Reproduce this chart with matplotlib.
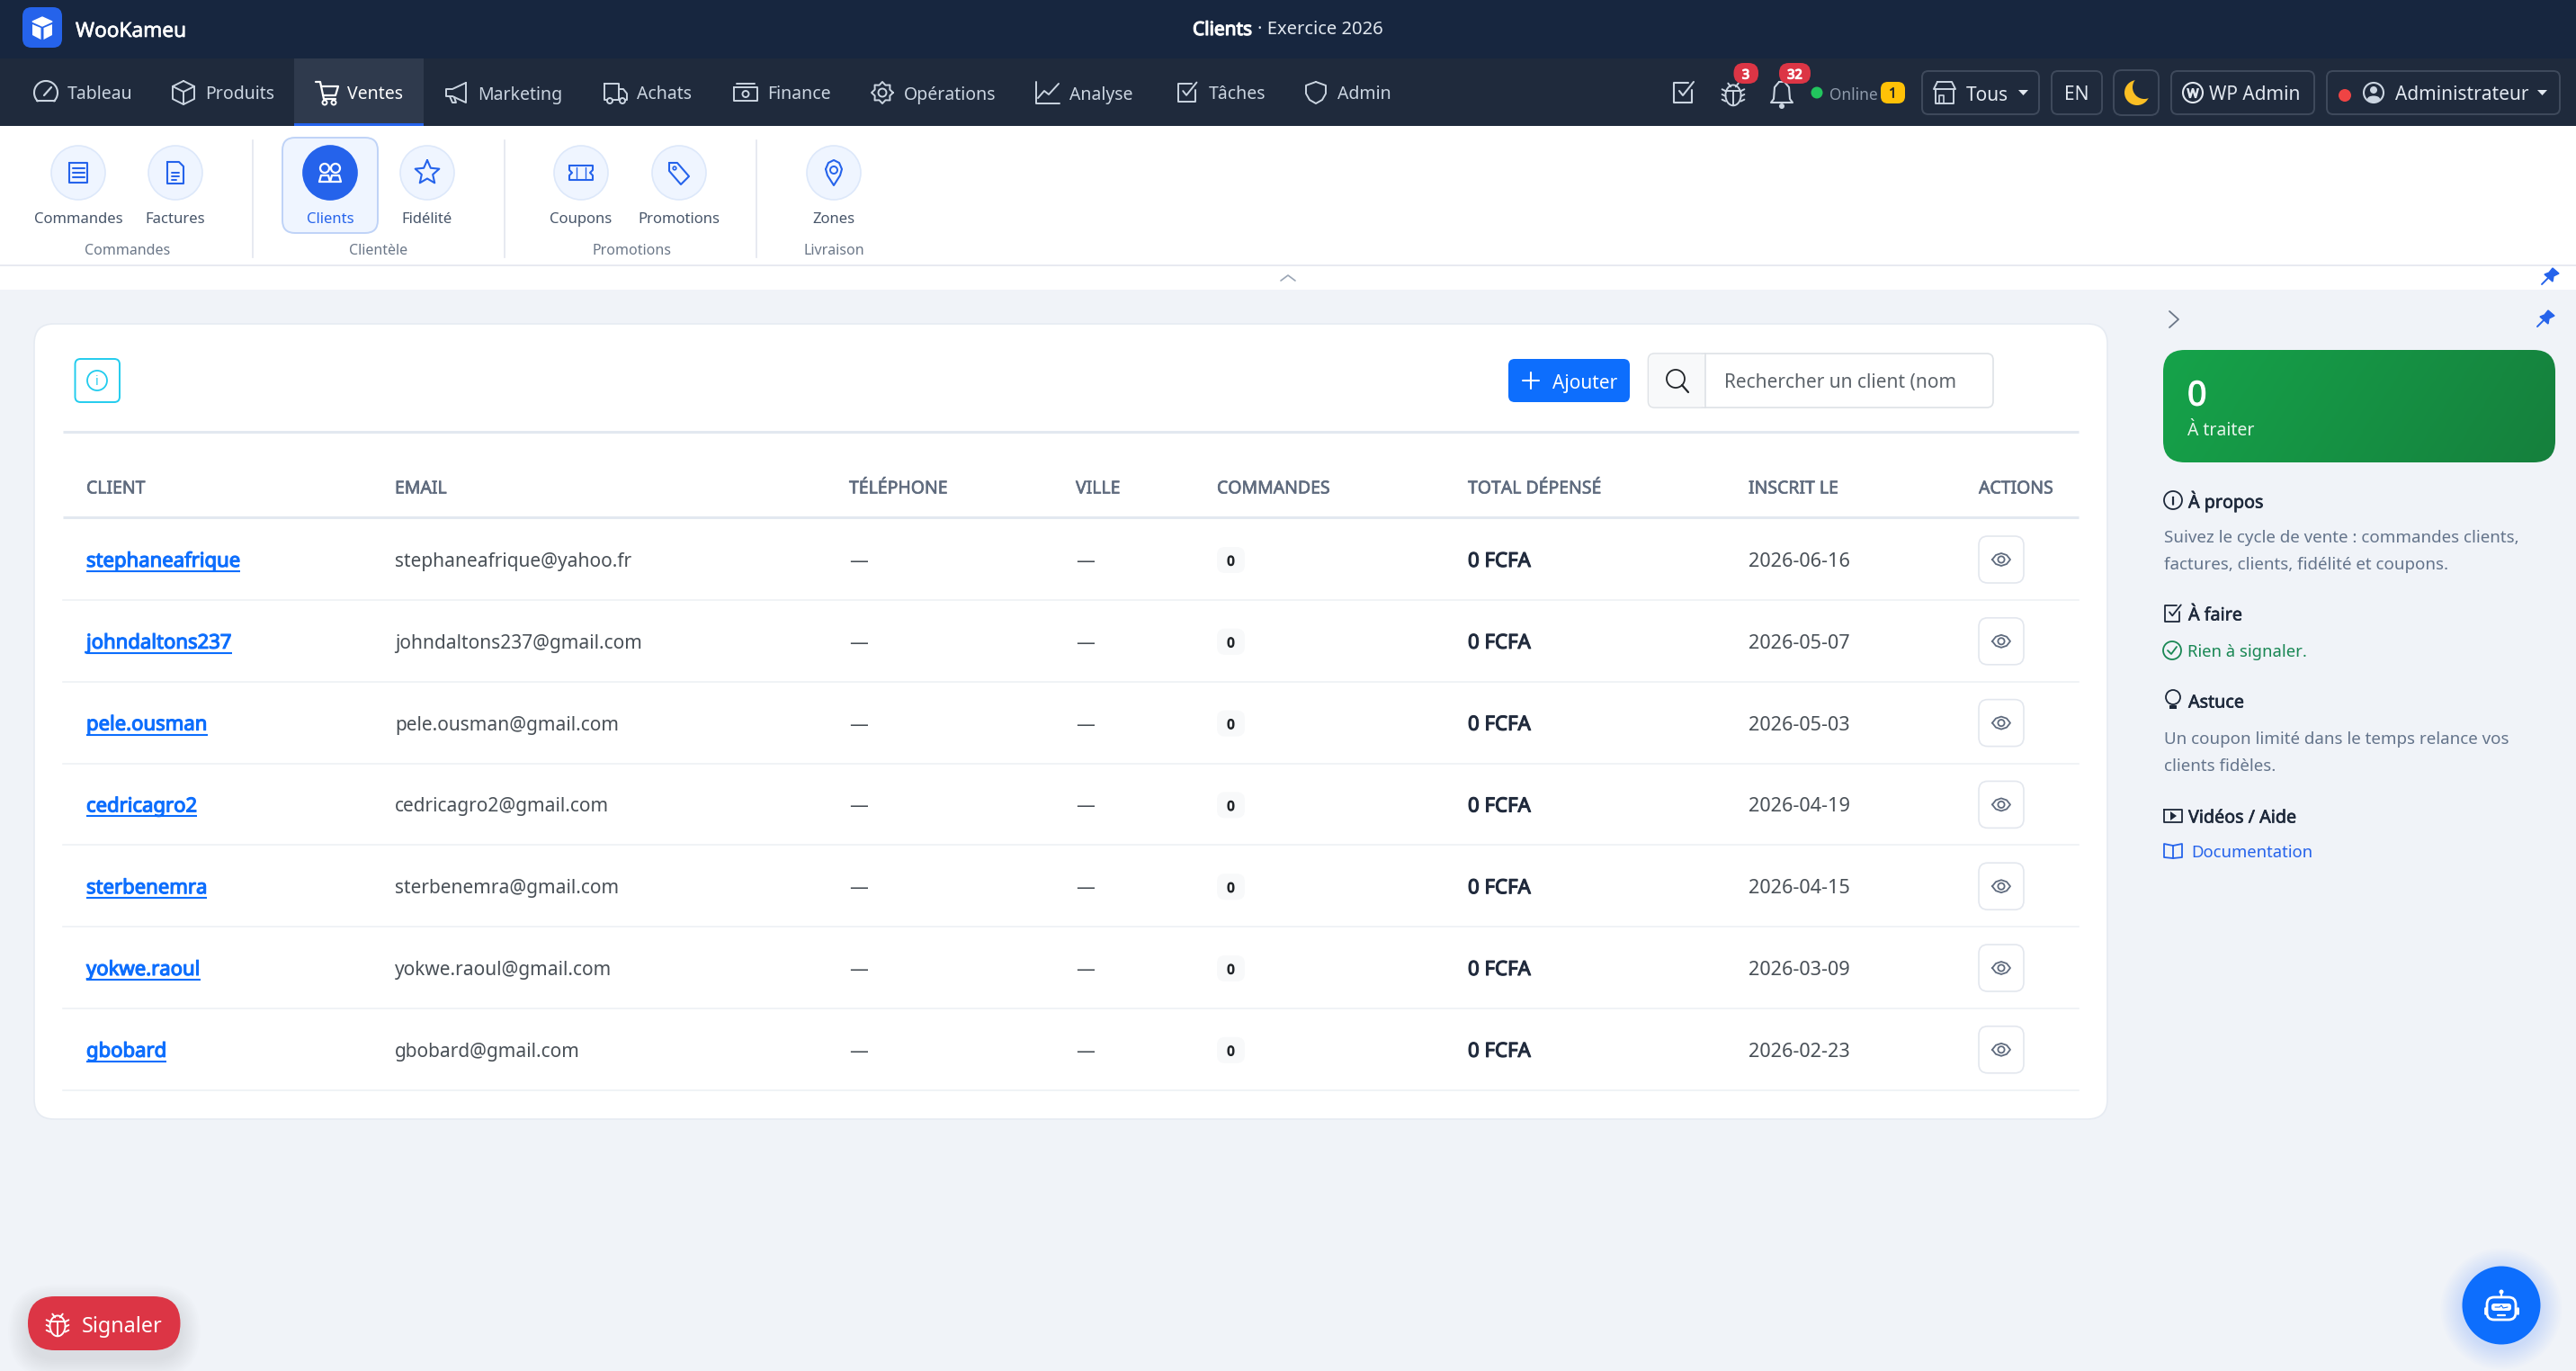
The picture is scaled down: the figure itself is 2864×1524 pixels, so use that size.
import numpy as np
import matplotlib
matplotlib.use("Agg")
import matplotlib.pyplot as plt
import matplotlib.patheffects as pe
from matplotlib.patches import FancyBboxPatch, Circle, Ellipse, Polygon, Rectangle, Arc
from matplotlib.colors import LinearSegmentedColormap

plt.rcParams["font.family"] = ["Noto Sans", "DejaVu Sans"]

# data
nav_labels = ["Tableau", "Produits", "Ventes", "Marketing", "Achats", "Finance", "Opérations", "Analyse", "Tâches", "Admin"]
sub_labels = ["Commandes", "Factures", "Clients", "Fidélité", "Coupons", "Promotions", "Zones"]
group_labels = ["Commandes", "Clientèle", "Promotions", "Livraison"]
table_headers = ["CLIENT", "EMAIL", "TÉLÉPHONE", "VILLE", "COMMANDES", "TOTAL DÉPENSÉ", "INSCRIT LE", "ACTIONS"]
clients = ["stephaneafrique", "johndaltons237", "pele.ousman", "cedricagro2", "sterbenemra", "yokwe.raoul", "gbobard"]
emails = ["stephaneafrique@yahoo.fr", "johndaltons237@gmail.com", "pele.ousman@gmail.com", "cedricagro2@gmail.com",
          "sterbenemra@gmail.com", "yokwe.raoul@gmail.com", "gbobard@gmail.com"]
orders = [0, 0, 0, 0, 0, 0, 0]
spent = [0, 0, 0, 0, 0, 0, 0]
dates = ["2026-06-16", "2026-05-07", "2026-05-03", "2026-04-19", "2026-04-15", "2026-03-09", "2026-02-23"]

# layout in screen pixels
nav_icon_x = [51, 204, 363, 507, 684, 829, 981, 1165, 1320, 1463]
nav_text_x = [75, 228, 386, 531, 708, 853, 1005, 1189, 1344, 1487]
sub_x = [87, 195, 367, 475, 646, 755, 927]
group_x = [142, 421, 702, 927]
head_x = [96, 439, 944, 1196, 1353, 1632, 1944, 2200]
row_y = [622 + 90.8 * i for i in range(7)]

NAVY = "#17263F"
NAV = "#1F2A3C"
BG = "#F0F3F8"
BLUE = "#0D6EFD"
ROYAL = "#2563EB"
GREY = "#495057"
NAVTXT = "#CBD5E1"

fig = plt.figure(figsize=(28.64, 15.24), dpi=100, facecolor=BG)
ax = fig.add_axes([0, 0, 1, 1])
ax.set_xlim(0, 2864)
ax.set_ylim(1524, 0)
ax.axis("off")


def box(x0, y0, x1, y1, fc, ec="none", r=8, lw=1.4, z=2, alpha=None):
    p = FancyBboxPatch((x0, y0), x1 - x0, y1 - y0, boxstyle=f"round,pad=0,rounding_size={r}",
                       fc=fc, ec=ec, lw=lw, zorder=z, alpha=alpha)
    ax.add_patch(p)
    return p


# Noto Sans has no heavy cut here, so the weights get a thin stroke
def txt(x, y, s, size=14, color=GREY, weight="normal", ha="left", z=6):
    t = ax.text(x, y, s, fontsize=size, color=color, ha=ha, va="center_baseline", zorder=z)
    stroke = {"normal": 0, "semibold": 0.45, "bold": 0.85}[weight]
    if stroke:
        t.set_path_effects([pe.withStroke(linewidth=stroke, foreground=color)])
    return t


def pl(cx, cy, pts, color, lw=1.4, closed=False, z=5):
    xs = [cx + p[0] for p in pts]
    ys = [cy + p[1] for p in pts]
    if closed:
        xs.append(xs[0])
        ys.append(ys[0])
    ax.plot(xs, ys, color=color, lw=lw, zorder=z, solid_capstyle="round", solid_joinstyle="round")


def ring(cx, cy, r, color, lw=1.4, fc="none", z=5):
    ax.add_patch(Circle((cx, cy), r, fc=fc, ec=color, lw=lw, zorder=z))


def shadow(x0, y0, x1, y1, r, color, spread=24, dy=10, strength=0.02):
    for k in range(spread, 0, -2):
        box(x0 - k, y0 - k + dy, x1 + k, y1 + k + dy, color, r=r + k, z=1.5, alpha=strength)


def icon_check(cx, cy, c, s=1.0, lw=1.4):
    pl(cx, cy, [(9*s, -3*s), (9*s, 11*s), (-11*s, 11*s), (-11*s, -11*s), (5*s, -11*s)], c, lw)
    pl(cx, cy, [(-5*s, -2*s), (-1*s, 3*s), (11*s, -12*s)], c, lw)


def icon_bug(cx, cy, c, s=1.0, lw=1.4):
    ax.add_patch(Ellipse((cx, cy + 2*s), 18*s, 24*s, fc="none", ec=c, lw=lw, zorder=5))
    pl(cx, cy, [(-9*s, -3*s), (9*s, -3*s)], c, lw)
    pl(cx, cy, [(0, -3*s), (0, 14*s)], c, lw)
    for dy in (-3, 3, 9):
        pl(cx, cy, [(-9*s, dy*s), (-13*s, (dy-2)*s)], c, lw)
        pl(cx, cy, [(9*s, dy*s), (13*s, (dy-2)*s)], c, lw)
    pl(cx, cy, [(-6*s, -12*s), (-3*s, -8*s)], c, lw)
    pl(cx, cy, [(6*s, -12*s), (3*s, -8*s)], c, lw)


def icon_eye(cx, cy, c):
    pl(cx, cy, [(-10, 0), (-6, -5), (0, -7), (6, -5), (10, 0), (6, 5), (0, 7), (-6, 5)], c, 1.3, closed=True)
    ring(cx, cy, 3.6, c, 1.3)


def icon_pin(cx, cy, c):
    ax.add_patch(Polygon([(cx + 3, cy - 10), (cx + 10, cy - 4), (cx + 4, cy - 1), (cx + 3, cy + 5), (cx - 6, cy - 3), (cx - 1, cy - 5)],
                         fc=c, ec=c, lw=1, zorder=5))
    pl(cx, cy, [(-2, 1), (-9, 8)], c, 1.4)


def nav_icon(i, x, y, c):
    if i == 0:  # tableau
        ax.add_patch(Arc((x, y), 26, 26, theta1=130, theta2=50, ec=c, lw=1.5, zorder=5))
        pl(x, y, [(-10, 9), (10, 9)], c, 1.5)
        pl(x, y, [(-2, 3), (6, -6)], c, 1.6)
    elif i == 1:  # produits
        pl(x, y, [(0, -13), (12, -7), (12, 7), (0, 13), (-12, 7), (-12, -7)], c, closed=True)
        pl(x, y, [(-12, -7), (0, -1), (12, -7)], c)
        pl(x, y, [(0, -1), (0, 13)], c)
    elif i == 2:  # ventes
        pl(x, y, [(-12, -12), (-7, -12), (-3, 7), (10, 7)], c, 1.6)
        pl(x, y, [(-6, -7), (13, -7), (10, 3), (-4, 3)], c, 1.6)
        ring(x - 2, y + 11, 2.5, c)
        ring(x + 8, y + 11, 2.5, c)
    elif i == 3:  # marketing
        pl(x, y, [(11, -11), (11, 11), (-4, 4), (-11, 4), (-11, -4), (-4, -4)], c, closed=True)
        pl(x, y, [(-7, 4), (-4, 11), (0, 11), (-2, 5)], c)
    elif i == 4:  # achats
        pl(x, y, [(-12, -10), (4, -10), (4, 8), (-12, 8)], c, closed=True)
        pl(x, y, [(4, -4), (9, -4), (13, 1), (13, 8), (4, 8)], c)
        ring(x - 6, y + 9, 3, c, fc=NAV)
        ring(x + 8, y + 9, 3, c, fc=NAV)
    elif i == 5:  # finance
        pl(x, y, [(-13, -6), (13, -6), (13, 9), (-13, 9)], c, closed=True)
        pl(x, y, [(-10, -10), (10, -10)], c)
        ring(x, y + 1.5, 3.5, c)
    elif i == 6:  # operations
        ring(x, y, 4.5, c)
        ang = np.linspace(0, 2 * np.pi, 17)
        rad = [12 if k % 2 == 0 else 9 for k in range(17)]
        pl(x, y, [(r * np.cos(a), r * np.sin(a)) for a, r in zip(ang, rad)], c)
    elif i == 7:  # analyse
        pl(x, y, [(-13, -12), (-13, 12), (13, 12)], c)
        pl(x, y, [(-11, 6), (-4, -2), (1, 2), (12, -10)], c)
    elif i == 8:  # taches
        icon_check(x, y, c, 0.95)
    else:  # admin
        pl(x, y, [(0, -12), (11, -8), (11, 1), (7, 8), (0, 12), (-7, 8), (-11, 1), (-11, -8)], c, closed=True)


def sub_icon(i, x, y, c):
    if i == 0:
        pl(x, y, [(-10, -11), (10, -11), (10, 11), (-10, 11)], c, 1.5, closed=True)
        for d in (-5, 0, 5):
            pl(x, y, [(-6, d), (7, d)], c, 1.5)
    elif i == 1:
        pl(x, y, [(-9, -12), (4, -12), (9, -7), (9, 12), (-9, 12)], c, 1.5, closed=True)
        pl(x, y, [(-4, 0), (4, 0)], c, 1.4)
        pl(x, y, [(-4, 4), (4, 4)], c, 1.4)
        pl(x, y, [(-4, 8), (1, 8)], c, 1.4)
    elif i == 2:
        ring(x - 6, y - 5, 5, c, 1.6)
        ring(x + 6, y - 5, 5, c, 1.6)
        pl(x, y, [(-12, 10), (-10, 3), (-2, 3), (0, 10), (2, 3), (10, 3), (12, 10), (-12, 10)], c, 1.6)
    elif i == 3:
        ang = np.radians(np.arange(-90, 270, 36))
        rad = [14 if k % 2 == 0 else 6.5 for k in range(10)]
        pl(x, y, [(r * np.cos(a), r * np.sin(a)) for a, r in zip(ang, rad)], c, 1.5, closed=True)
    elif i == 4:
        pl(x, y, [(-13, -8), (13, -8), (13, -3), (10, 0), (13, 3), (13, 8), (-13, 8), (-13, 3), (-10, 0), (-13, -3)], c, 1.5, closed=True)
        pl(x, y, [(-5, -6), (-5, 6)], c, 1)
        pl(x, y, [(5, -6), (5, 6)], c, 1)
    elif i == 5:
        pl(x, y, [(-11, -11), (-2, -11), (11, 4), (2, 13), (-11, -2)], c, 1.5, closed=True)
        ring(x - 5, y - 5, 1.8, c, 1.2)
    else:
        pl(x, y, [(-9, -4), (-6, -11), (0, -14), (6, -11), (9, -4), (7, 3), (0, 14), (-7, 3)], c, 1.5, closed=True)
        ring(x, y - 3, 4, c, 1.4)


# top bars
ax.add_patch(Rectangle((0, 0), 2864, 65, fc=NAVY, ec="none", zorder=1))
ax.add_patch(Rectangle((0, 65), 2864, 75, fc=NAV, ec="none", zorder=1))
ax.add_patch(Rectangle((327, 65), 144, 75, fc="#2F3A4D", ec="none", zorder=1.2))
ax.add_patch(Rectangle((327, 137), 144, 3, fc=ROYAL, ec="none", zorder=1.3))

# logo and title
box(25, 8, 69, 53, ROYAL, r=10)
ax.add_patch(Polygon([(36, 24), (47, 19), (58, 24), (47, 29)], fc="#FFFFFF", ec="white", lw=1, zorder=5))
ax.add_patch(Polygon([(36, 27), (45.5, 31), (45.5, 44), (36, 39)], fc="#FFFFFF", ec="none", zorder=5))
ax.add_patch(Polygon([(48.5, 31), (58, 27), (58, 39), (48.5, 44)], fc="#FFFFFF", ec="none", zorder=5))
txt(84, 33, "WooKameu", 16.3, "white", "semibold")
txt(1326, 31, "Clients", 15, "white", "bold")
txt(1398, 31, "· Exercice 2026", 14.5, "#E2E8F0")

# nav
for i, label in enumerate(nav_labels):
    col = "white" if i == 2 else NAVTXT
    nav_icon(i, nav_icon_x[i], 103, col)
    txt(nav_text_x[i], 103, label, 14, col)

# right of nav
icon_check(1872, 103, "#CBD5E1", 1.0, 1.5)
icon_bug(1927, 104, "#CBD5E1", 0.95)
bell = [(-3, -13), (3, -13), (8, -7), (9, 6), (12, 10), (-12, 10), (-9, 6), (-8, -7)]
pl(1981, 104, bell, "#CBD5E1", 1.5, closed=True)
ax.add_patch(Circle((1981, 118), 3, fc="#CBD5E1", ec="none", zorder=5))
box(1927.5, 70, 1955, 93, "#DC3545", r=11, z=7)
txt(1941, 82, "3", 10.5, "white", "bold", ha="center", z=8)
box(1978, 70, 2013, 93, "#DC3545", r=11, z=7)
txt(1995.5, 82, "32", 10.5, "white", "bold", ha="center", z=8)
ax.add_patch(Circle((2020, 103), 6.5, fc="#22C55E", ec="none", zorder=5))
txt(2034, 104, "Online", 12.5, "#8E9AAB")
box(2091, 91, 2118, 115, "#FFC107", r=8)
txt(2104.5, 103, "1", 11, "#212529", "semibold", ha="center")

BTN = "#3F4A5C"
box(2137, 79, 2267, 127, "none", BTN, r=7)
box(2281, 79, 2337, 127, "none", BTN, r=7)
box(2350, 78, 2400, 128, "none", BTN, r=9)
box(2414, 79, 2573, 127, "none", BTN, r=7)
box(2587, 79, 2846, 127, "none", BTN, r=7)
# shop
pl(2162, 103, [(-10, -4), (-10, 12), (10, 12), (10, -4)], NAVTXT)
pl(2162, 103, [(-8, -12), (8, -12), (12, -4), (-12, -4)], NAVTXT, closed=True)
pl(2162, 103, [(-6, 12), (-6, 3), (-1, 3), (-1, 12)], NAVTXT, 1.2)
txt(2186, 104, "Tous", 15, "#E2E8F0")
ax.add_patch(Polygon([(2244, 100), (2255, 100), (2249.5, 106)], fc="#E2E8F0", ec="none", zorder=5))
txt(2309, 103, "EN", 15, "#E2E8F0", ha="center")
ax.add_patch(Circle((2376, 103), 14, fc="#FBBF24", ec="none", zorder=5))
ax.add_patch(Circle((2384, 97), 13, fc=NAV, ec="none", zorder=5.1))
ring(2438, 103, 11, "#E2E8F0", 1.5, fc="none")
txt(2438, 103, "W", 10, "#E2E8F0", "bold", ha="center")
txt(2456, 103, "WP Admin", 15, "#E2E8F0")
ax.add_patch(Circle((2607, 106), 7, fc="#EF4444", ec="none", zorder=5))
ring(2639, 103, 11, "#CBD5E1", 1.5)
ax.add_patch(Circle((2639, 100), 4, fc="#CBD5E1", ec="none", zorder=5))
ax.add_patch(Ellipse((2639, 110), 14, 7, fc="#CBD5E1", ec="none", zorder=5))
txt(2663, 103, "Administrateur", 15, "#E2E8F0")
ax.add_patch(Polygon([(2821, 100), (2832, 100), (2826.5, 106)], fc="#E2E8F0", ec="none", zorder=5))

# sub menu
ax.add_patch(Rectangle((0, 140), 2864, 182, fc="white", ec="none", zorder=1))
ax.plot([0, 2864], [295, 295], color="#E8EAF1", lw=1.4, zorder=2)
box(314, 153, 420, 259, "#EFF5FF", "#BFD3F7", r=14, z=2)
for i, label in enumerate(sub_labels):
    active = i == 2
    ax.add_patch(Circle((sub_x[i], 192), 30, fc=ROYAL if active else "#EFF5FF", ec=ROYAL if active else "#DDE8FA", lw=1.2, zorder=3))
    sub_icon(i, sub_x[i], 192, "white" if active else ROYAL)
    txt(sub_x[i], 242, label, 12, ROYAL if active else "#475569", ha="center")
for i, label in enumerate(group_labels):
    txt(group_x[i], 277, label, 11.5, "#6B7788", ha="center")
for x in (281, 561, 841):
    ax.plot([x, x], [156, 286], color="#E3E6EF", lw=1.2, zorder=2)
pl(1432, 309, [(-8, 3), (0, -3), (8, 3)], "#9AA5B5", 1.2)
icon_pin(2835, 308, ROYAL)

# main card
box(38, 360, 2343, 1244, "white", "#E6EBF2", r=22, lw=1.2, z=2)
box(83.5, 399, 133, 447, "white", "#22CCEE", r=6, lw=1.4, z=3)
ring(108, 423, 11, "#22CCEE", 1.3)
txt(108, 423, "i", 10, "#22CCEE", ha="center")

box(1677, 399, 1812, 447, BLUE, r=7, z=3)
pl(1702, 423, [(-9, 0), (9, 0)], "white", 1.5)
pl(1702, 423, [(0, -9), (0, 9)], "white", 1.5)
txt(1726, 424, "Ajouter", 15, "white")
box(1832.5, 393, 2216, 453, "white", "#DEE2E6", r=7, lw=1.2, z=3)
box(1833.2, 393.7, 1896, 452.3, "#F8F9FA", "none", r=6, z=3.1)
ax.plot([1896, 1896], [393, 453], color="#DEE2E6", lw=1.2, zorder=3.2)
ring(1863, 421, 10, "#212529", 1.3)
pl(1863, 421, [(7, 7), (14, 15)], "#212529", 1.6)
txt(1917, 423, "Rechercher un client (nom", 15, "#5C636A")

# table
ax.plot([70, 2311], [479.5, 479.5], color="#E2E8F0", lw=2.2, zorder=3, solid_capstyle="butt")
ax.plot([70, 2311], [575, 575], color="#E2E8F0", lw=2.2, zorder=3, solid_capstyle="butt")
for i, label in enumerate(table_headers):
    txt(head_x[i], 541, label, 14, "#5F6B7E", "semibold")

renderer = fig.canvas.get_renderer()
for i in range(7):
    y = row_y[i]
    t = txt(head_x[0], y, clients[i], 15.9, BLUE, "bold")
    bb = t.get_window_extent(renderer)
    ax.plot([bb.x0, bb.x1], [y + 13, y + 13], color=BLUE, lw=1.5, zorder=6, solid_capstyle="butt")
    txt(head_x[1], y, emails[i], 15, GREY)
    txt(head_x[2], y, "—", 15, GREY)
    txt(head_x[3], y, "—", 15, GREY)
    box(1353, y - 14, 1384, y + 15, "#F8F9FA", r=9, z=3)
    txt(1368.5, y + 1, str(orders[i]), 10.5, "#212529", "bold", ha="center")
    txt(head_x[5], y, f"{spent[i]} FCFA", 16, "#212B3D", "bold")
    txt(head_x[6], y, dates[i], 15.6, GREY)
    box(2200, y - 26, 2250, y + 26, "white", "#E3E7EE", r=10, lw=1.2, z=3)
    icon_eye(2225, y, "#5F6B7E")
    ax.plot([70, 2311], [y + 45, y + 45], color="#EEF1F5", lw=1.2, zorder=3)

# right panel
pl(2417, 355, [(-5, -9), (5, 0), (-5, 9)], "#6B7788", 1.3)
icon_pin(2830, 355, ROYAL)
green = box(2405, 389, 2841, 514, "none", r=24, z=3)
gx, gy = np.meshgrid(np.linspace(0, 1, 200), np.linspace(0, 1, 40))
grad = (gx * 0.85 + gy * 0.15)
cm = LinearSegmentedColormap.from_list("g", ["#16A34A", "#15803D"])
im = ax.imshow(grad, extent=(2405, 2841, 514, 389), cmap=cm, aspect="auto", zorder=3)
im.set_clip_path(green)
ax.set_xlim(0, 2864)
ax.set_ylim(1524, 0)
txt(2432, 436, "0", 27, "white", "bold")
txt(2432, 477, "À traiter", 14, "#E6F4EA")

DARK = "#1E293B"
SLATE = "#64748B"
ring(2416, 556, 10, DARK, 1.3)
txt(2416, 556, "i", 8.5, DARK, "bold", ha="center")
txt(2433, 555, "À propos", 14.2, DARK, "semibold")
txt(2406, 596, "Suivez le cycle de vente : commandes clients,", 13.5, SLATE)
txt(2406, 626, "factures, clients, fidélité et coupons.", 13.5, SLATE)
icon_check(2416, 682, DARK, 0.8, 1.3)
txt(2433, 682, "À faire", 14.2, DARK, "semibold")
ring(2415, 723, 10, "#198754", 1.3)
pl(2415, 723, [(-5, 0), (-1, 4), (5, -4)], "#198754", 1.3)
txt(2432, 723, "Rien à signaler.", 13.3, "#198754")
ring(2416, 775, 8, DARK, 1.3)
ax.add_patch(Rectangle((2412, 784), 8, 4, fc=DARK, ec="none", zorder=5))
txt(2433, 779, "Astuce", 14.2, DARK, "semibold")
txt(2406, 820, "Un coupon limité dans le temps relance vos", 13.5, SLATE)
txt(2406, 850, "clients fidèles.", 13.5, SLATE)
pl(2416, 907, [(-10, -7), (10, -7), (10, 7), (-10, 7)], DARK, 1.3, closed=True)
ax.add_patch(Polygon([(2413, 902), (2420, 907), (2413, 912)], fc=DARK, ec="none", zorder=5))
txt(2433, 907, "Vidéos / Aide", 14.2, DARK, "semibold")
pl(2416, 946, [(0, -6), (-10, -8), (-10, 7), (0, 8), (10, 7), (10, -8)], ROYAL, 1.3, closed=True)
pl(2416, 946, [(0, -6), (0, 8)], ROYAL, 1.3)
txt(2436, 946, "Documentation", 13.3, ROYAL)

# floating buttons
shadow(31, 1441, 200.5, 1501, 30, "#64748B", spread=22, dy=9, strength=0.012)
box(31, 1441, 200.5, 1501, "#DC3545", r=30, z=4)
icon_bug(64, 1472, "white", 0.95)
txt(91, 1472, "Signaler", 16.8, "white")

for k in range(24, 0, -2):
    ax.add_patch(Circle((2781, 1455), 43.5 + k, fc=BLUE, ec="none", alpha=0.012, zorder=3))
ax.add_patch(Circle((2781, 1451), 43.5, fc=BLUE, ec="none", zorder=4))
box(2765, 1442, 2797, 1467, "none", "white", r=8, lw=2, z=5)
box(2770, 1449, 2792, 1457, "white", r=3, z=5)
pl(2781, 1451, [(-7, 2), (-2, 2), (0, 0), (2, 3), (7, 2)], BLUE, 0.8, z=6)
pl(2781, 1451, [(0, -9), (0, -14)], "white", 1.6)
ax.add_patch(Circle((2781, 1436), 2.5, fc="white", ec="none", zorder=5))
pl(2781, 1451, [(-18, 3), (-18, 9)], "white", 2)
pl(2781, 1451, [(18, 3), (18, 9)], "white", 2)
pl(2781, 1451, [(-4, 11), (4, 11)], "white", 1.6)

fig.savefig("out.png", dpi=100, facecolor=BG)
